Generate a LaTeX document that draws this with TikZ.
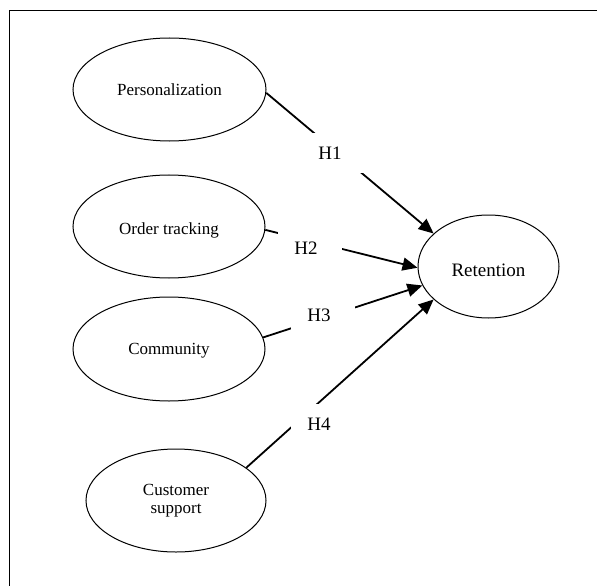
\documentclass[tikz,border=0pt]{standalone}
\usepackage{fontspec}
\setmainfont{Liberation Serif}
\usetikzlibrary{shapes.geometric,arrows.meta}
\newcommand{\lowerby}[2]{\raisebox{-#1}[\height][\depth]{#2}}
\begin{document}
\begin{tikzpicture}[x=1bp,y=-1bp,
  construct/.style={ellipse,draw,line width=1bp,inner sep=0pt,align=center,
    font=\fontsize{17bp}{18bp}\selectfont},
  link/.style={line width=1.8bp,-{Triangle[length=15bp,width=13bp]}},
  hyp/.style={fill=white,minimum width=64bp,minimum height=40bp,inner sep=0pt,
    font=\fontsize{19bp}{20bp}\selectfont}]
\useasboundingbox (0,0) rectangle (597,586);
\draw[line width=1bp] (9,586) -- (9,11) -- (597,11);
\node[construct,minimum width=193bp,minimum height=103bp] (pers) at (169.5,89.5) {Personalization};
\node[construct,minimum width=192bp,minimum height=103bp] (order) at (169,226.5) {\lowerby{4bp}{Order tracking}};
\node[construct,minimum width=192bp,minimum height=104bp] (comm) at (169,349) {\lowerby{2bp}{Community}};
\node[construct,minimum width=180bp,minimum height=103bp] (cust) at (176,500.5) {Customer\\support};
\node[construct,minimum width=141bp,minimum height=103bp,font=\fontsize{19bp}{20bp}\selectfont] (ret) at (488.5,266.5) {\lowerby{4bp}{Retention}};
\draw[link] (pers.-2) -- (ret.149);
\draw[link] (order.-2) -- (ret.181);
\draw[link] (comm.7) -- (ret.196);
\draw[link] (cust.25) -- (ret.211);
\node[hyp] (h1) at (334,153) {H1\kern8bp};
\node[hyp] (h2) at (310,248) {H2\kern8bp};
\node[hyp] (h3) at (323,315) {H3\kern8bp};
\node[hyp] (h4) at (323,424) {H4\kern8bp};
\end{tikzpicture}
\end{document}
